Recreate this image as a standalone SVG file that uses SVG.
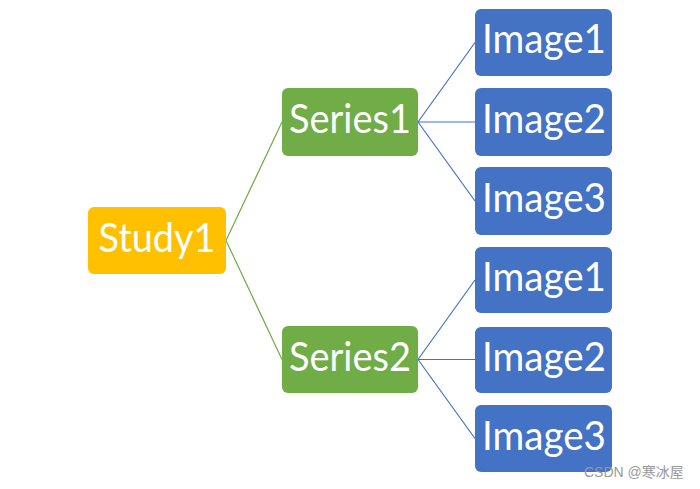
<svg xmlns="http://www.w3.org/2000/svg" width="700" height="489" viewBox="0 0 700 489">
<style>
.t{font-family:Lato,"Open Sans",sans-serif;font-size:40px;fill:#fff;text-anchor:middle}
.study{fill:#FFC000}
.series{fill:#70AD47}
.image{fill:#4472C4}
.gl{stroke:#70AD47;stroke-width:1.2;fill:none}
.bl{stroke:#4472C4;stroke-width:1.2;fill:none}
.wm{font-family:"Liberation Sans","Noto Sans CJK SC",sans-serif;font-size:14px;fill:#999}
</style>
<rect width="700" height="489" fill="#fff"/>
<g id="connectors">
<path class="gl" d="M226,240.5 L282,122 M226,240.5 L282,359.5"/>
<path class="bl" d="M418,122 L475,42.5 M418,122 L475,122 M418,122 L475,201 M418,359.5 L475,280 M418,359.5 L475,359.5 M418,359.5 L475,438.5"/>
</g>
<g id="study1"><rect class="study" x="88" y="207" width="138" height="67" rx="6"/><text class="t" x="157" y="252" textLength="117" lengthAdjust="spacingAndGlyphs">Study1</text></g>
<g id="series1"><rect class="series" x="282" y="88" width="136" height="68" rx="6"/><text class="t" x="350" y="133" textLength="122" lengthAdjust="spacingAndGlyphs">Series1</text></g>
<g id="series2"><rect class="series" x="282" y="326" width="136" height="67" rx="6"/><text class="t" x="350" y="371" textLength="122" lengthAdjust="spacingAndGlyphs">Series2</text></g>
<g id="image1a"><rect class="image" x="475" y="9" width="137" height="67" rx="6"/><text class="t" x="544" y="53" textLength="124" lengthAdjust="spacingAndGlyphs">Image1</text></g>
<g id="image2a"><rect class="image" x="475" y="88" width="137" height="68" rx="6"/><text class="t" x="544" y="133" textLength="124" lengthAdjust="spacingAndGlyphs">Image2</text></g>
<g id="image3a"><rect class="image" x="475" y="167" width="137" height="68" rx="6"/><text class="t" x="544" y="212" textLength="124" lengthAdjust="spacingAndGlyphs">Image3</text></g>
<g id="image1b"><rect class="image" x="475" y="247" width="137" height="66" rx="6"/><text class="t" x="544" y="291" textLength="124" lengthAdjust="spacingAndGlyphs">Image1</text></g>
<g id="image2b"><rect class="image" x="475" y="327" width="137" height="66" rx="6"/><text class="t" x="544" y="371" textLength="124" lengthAdjust="spacingAndGlyphs">Image2</text></g>
<g id="image3b"><rect class="image" x="475" y="405" width="137" height="67" rx="6"/><text class="t" x="544" y="450" textLength="124" lengthAdjust="spacingAndGlyphs">Image3</text></g>
<text class="wm" x="584" y="477">CSDN @寒冰屋</text>
</svg>
